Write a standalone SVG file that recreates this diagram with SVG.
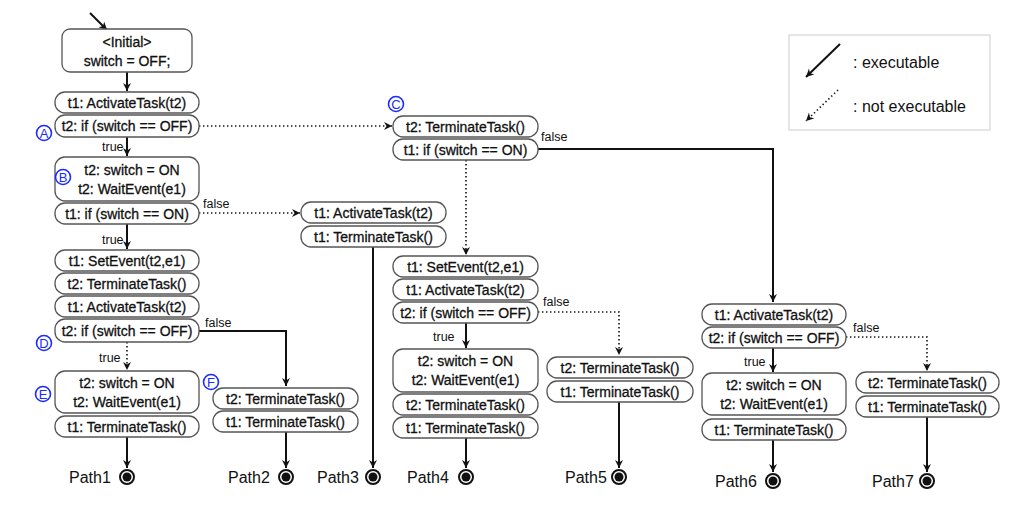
<svg xmlns="http://www.w3.org/2000/svg" width="1012" height="505" viewBox="0 0 1012 505">
<defs>
<marker id="ah" markerWidth="10" markerHeight="10" refX="8" refY="4" orient="auto" markerUnits="userSpaceOnUse">
<path d="M0,0 L8,4 L0,8 L2.5,4 z" fill="#111"/>
</marker>
<style>
.b{fill:#fff;stroke:#555;stroke-width:1.3}
.t{font-family:"Liberation Sans",Arial,sans-serif;font-size:14px;fill:#111;stroke:#111;stroke-width:0.3;text-anchor:middle}
.s{font-family:"Liberation Sans",Arial,sans-serif;font-size:12.5px;fill:#111}
.p{font-family:"Liberation Sans",Arial,sans-serif;font-size:16px;fill:#111}
.lg{font-family:"Liberation Sans",Arial,sans-serif;font-size:16px;fill:#111}
.sol{fill:none;stroke:#111;stroke-width:2}
.dot{fill:none;stroke:#111;stroke-width:1.6;stroke-dasharray:1.4 2.6}
.lab circle{fill:#fff;stroke:#1a2bff;stroke-width:1.6}
.lab text{font-family:"Liberation Sans",Arial,sans-serif;font-size:13px;fill:#1a2bff;text-anchor:middle}
.end circle.o{fill:#fff;stroke:#111;stroke-width:2}
.end circle.i{fill:#111}
</style>
</defs>
<rect width="1012" height="505" fill="#fff"/>

<g id="connectors">
<line class="sol" x1="90" y1="13" x2="107" y2="30" marker-end="url(#ah)"/>
<line class="sol" x1="127" y1="72" x2="127" y2="91" marker-end="url(#ah)"/>
<line class="sol" x1="127" y1="137" x2="127" y2="156" marker-end="url(#ah)"/>
<polyline class="dot" points="199,126 392,126" marker-end="url(#ah)"/>
<polyline class="dot" points="199,213 300,213" marker-end="url(#ah)"/>
<line class="sol" x1="127" y1="224" x2="127" y2="249" marker-end="url(#ah)"/>
<polyline class="sol" points="199,331 286,331 286,386" marker-end="url(#ah)"/>
<line class="dot" x1="127" y1="342" x2="127" y2="370" marker-end="url(#ah)"/>
<line class="sol" x1="127" y1="437" x2="127" y2="468" marker-end="url(#ah)"/>
<line class="sol" x1="286" y1="432" x2="286" y2="468" marker-end="url(#ah)"/>
<line class="sol" x1="373" y1="247" x2="373" y2="468" marker-end="url(#ah)"/>
<polyline class="sol" points="538,149 773,149 773,302" marker-end="url(#ah)"/>
<line class="dot" x1="466" y1="160" x2="466" y2="255" marker-end="url(#ah)"/>
<polyline class="dot" points="538,312 619,312 619,355" marker-end="url(#ah)"/>
<line class="sol" x1="466" y1="323" x2="466" y2="348" marker-end="url(#ah)"/>
<line class="sol" x1="466" y1="438" x2="466" y2="468" marker-end="url(#ah)"/>
<line class="sol" x1="619" y1="402" x2="619" y2="468" marker-end="url(#ah)"/>
<polyline class="dot" points="846,337 927,337 927,371" marker-end="url(#ah)"/>
<line class="sol" x1="773" y1="348" x2="773" y2="372" marker-end="url(#ah)"/>
<line class="sol" x1="773" y1="440" x2="773" y2="472" marker-end="url(#ah)"/>
<line class="sol" x1="927" y1="417" x2="927" y2="472" marker-end="url(#ah)"/>
<text class="s" x="102" y="151">true</text>
<text class="s" x="102" y="244">true</text>
<text class="s" x="203" y="208">false</text>
<text class="s" x="205" y="327">false</text>
<text class="s" x="99" y="362">true</text>
<text class="s" x="541" y="141">false</text>
<text class="s" x="543" y="306">false</text>
<text class="s" x="433" y="341">true</text>
<text class="s" x="853" y="332">false</text>
<text class="s" x="744" y="366">true</text>
</g>

<g id="initial"><rect class="b" x="62" y="29" width="130" height="43" rx="8"/>
<text class="t" x="127" y="47">&lt;Initial&gt;</text><text class="t" x="127" y="66">switch = OFF;</text></g>

<g id="n1"><rect class="b" x="55" y="92" width="144" height="21" rx="10"/><text class="t" x="127" y="107.5">t1: ActivateTask(t2)</text></g>
<g id="n2"><rect class="b" x="55" y="115" width="144" height="22" rx="10"/><text class="t" x="127" y="131">t2: if (switch == OFF)</text></g>
<g id="n3"><rect class="b" x="55" y="157" width="144" height="44" rx="10"/><text class="t" x="132" y="175">t2: switch = ON</text><text class="t" x="132" y="194">t2: WaitEvent(e1)</text></g>
<g id="n4"><rect class="b" x="55" y="203" width="144" height="21" rx="10"/><text class="t" x="127" y="218.5">t1: if (switch == ON)</text></g>
<g id="n5"><rect class="b" x="55" y="250" width="144" height="21" rx="10"/><text class="t" x="127" y="265.5">t1: SetEvent(t2,e1)</text></g>
<g id="n6"><rect class="b" x="55" y="273" width="144" height="21" rx="10"/><text class="t" x="127" y="288.5">t2: TerminateTask()</text></g>
<g id="n7"><rect class="b" x="55" y="296" width="144" height="21" rx="10"/><text class="t" x="127" y="311.5">t1: ActivateTask(t2)</text></g>
<g id="n8"><rect class="b" x="55" y="319" width="144" height="23" rx="10"/><text class="t" x="127" y="335.5">t2: if (switch == OFF)</text></g>
<g id="n9"><rect class="b" x="55" y="371" width="144" height="42" rx="10"/><text class="t" x="127" y="388">t2: switch = ON</text><text class="t" x="127" y="407">t2: WaitEvent(e1)</text></g>
<g id="n10"><rect class="b" x="55" y="416" width="144" height="21" rx="10"/><text class="t" x="127" y="431.5">t1: TerminateTask()</text></g>

<g id="f1"><rect class="b" x="213" y="388" width="145" height="21" rx="10"/><text class="t" x="285.5" y="403.5">t2: TerminateTask()</text></g>
<g id="f2"><rect class="b" x="213" y="411" width="145" height="21" rx="10"/><text class="t" x="285.5" y="426.5">t1: TerminateTask()</text></g>

<g id="p3a"><rect class="b" x="301" y="202" width="145" height="21" rx="10"/><text class="t" x="373.5" y="217.5">t1: ActivateTask(t2)</text></g>
<g id="p3b"><rect class="b" x="301" y="226" width="145" height="21" rx="10"/><text class="t" x="373.5" y="241.5">t1: TerminateTask()</text></g>

<g id="c1"><rect class="b" x="393" y="116" width="145" height="21" rx="10"/><text class="t" x="465.5" y="131.5">t2: TerminateTask()</text></g>
<g id="c2"><rect class="b" x="393" y="139" width="145" height="21" rx="10"/><text class="t" x="465.5" y="154.5">t1: if (switch == ON)</text></g>

<g id="d1"><rect class="b" x="393" y="256" width="145" height="21" rx="10"/><text class="t" x="465.5" y="271.5">t1: SetEvent(t2,e1)</text></g>
<g id="d2"><rect class="b" x="393" y="279" width="145" height="21" rx="10"/><text class="t" x="465.5" y="294.5">t1: ActivateTask(t2)</text></g>
<g id="d3"><rect class="b" x="393" y="302" width="145" height="21" rx="10"/><text class="t" x="465.5" y="317.5">t2: if (switch == OFF)</text></g>
<g id="d4"><rect class="b" x="393" y="349" width="145" height="43" rx="10"/><text class="t" x="465.5" y="366">t2: switch = ON</text><text class="t" x="465.5" y="385">t2: WaitEvent(e1)</text></g>
<g id="d5"><rect class="b" x="393" y="394" width="145" height="21" rx="10"/><text class="t" x="465.5" y="409.5">t2: TerminateTask()</text></g>
<g id="d6"><rect class="b" x="393" y="417" width="145" height="21" rx="10"/><text class="t" x="465.5" y="432.5">t1: TerminateTask()</text></g>

<g id="e1"><rect class="b" x="547" y="357" width="146" height="21" rx="10"/><text class="t" x="620" y="372.5">t2: TerminateTask()</text></g>
<g id="e2"><rect class="b" x="547" y="381" width="146" height="21" rx="10"/><text class="t" x="620" y="396.5">t1: TerminateTask()</text></g>

<g id="g1"><rect class="b" x="702" y="304" width="144" height="21" rx="10"/><text class="t" x="774" y="319.5">t1: ActivateTask(t2)</text></g>
<g id="g2"><rect class="b" x="702" y="327" width="144" height="21" rx="10"/><text class="t" x="774" y="342.5">t2: if (switch == OFF)</text></g>
<g id="g3"><rect class="b" x="702" y="373" width="144" height="42" rx="10"/><text class="t" x="774" y="390">t2: switch = ON</text><text class="t" x="774" y="409">t2: WaitEvent(e1)</text></g>
<g id="g4"><rect class="b" x="702" y="419" width="144" height="21" rx="10"/><text class="t" x="774" y="434.5">t1: TerminateTask()</text></g>

<g id="h1"><rect class="b" x="856" y="372" width="143" height="21" rx="10"/><text class="t" x="927.5" y="387.5">t2: TerminateTask()</text></g>
<g id="h2"><rect class="b" x="856" y="396" width="143" height="21" rx="10"/><text class="t" x="927.5" y="411.5">t1: TerminateTask()</text></g>

<g id="labels">
<g class="lab"><circle cx="44" cy="133" r="7.5"/><text x="44" y="137.5">A</text></g>
<g class="lab"><circle cx="63" cy="177" r="7.5"/><text x="63" y="181.5">B</text></g>
<g class="lab"><circle cx="396" cy="104" r="7.5"/><text x="396" y="108.5">C</text></g>
<g class="lab"><circle cx="44" cy="343" r="7.5"/><text x="44" y="347.5">D</text></g>
<g class="lab"><circle cx="43" cy="394" r="7.5"/><text x="43" y="398.5">E</text></g>
<g class="lab"><circle cx="211" cy="382" r="7.5"/><text x="211" y="386.5">F</text></g>
</g>

<g id="path1"><text class="p" x="69" y="483">Path1</text><g class="end"><circle class="o" cx="127" cy="477" r="7"/><circle class="i" cx="127" cy="477" r="4.5"/></g></g>
<g id="path2"><text class="p" x="228" y="483">Path2</text><g class="end"><circle class="o" cx="286" cy="477" r="7"/><circle class="i" cx="286" cy="477" r="4.5"/></g></g>
<g id="path3"><text class="p" x="317" y="483">Path3</text><g class="end"><circle class="o" cx="373" cy="477" r="7"/><circle class="i" cx="373" cy="477" r="4.5"/></g></g>
<g id="path4"><text class="p" x="407" y="483">Path4</text><g class="end"><circle class="o" cx="466" cy="477" r="7"/><circle class="i" cx="466" cy="477" r="4.5"/></g></g>
<g id="path5"><text class="p" x="565" y="483">Path5</text><g class="end"><circle class="o" cx="619" cy="477" r="7"/><circle class="i" cx="619" cy="477" r="4.5"/></g></g>
<g id="path6"><text class="p" x="715" y="487">Path6</text><g class="end"><circle class="o" cx="773" cy="481" r="7"/><circle class="i" cx="773" cy="481" r="4.5"/></g></g>
<g id="path7"><text class="p" x="872" y="487">Path7</text><g class="end"><circle class="o" cx="927" cy="481" r="7"/><circle class="i" cx="927" cy="481" r="4.5"/></g></g>

<g id="legend">
<rect x="789" y="35" width="201" height="95" fill="#fff" stroke="#ccc" stroke-width="1"/>
<line class="sol" x1="840" y1="44" x2="806" y2="77" marker-end="url(#ah)"/>
<line class="dot" x1="838" y1="90" x2="806" y2="121" marker-end="url(#ah)"/>
<text class="lg" x="853" y="68">: executable</text>
<text class="lg" x="853" y="112">: not executable</text>
</g>
</svg>
